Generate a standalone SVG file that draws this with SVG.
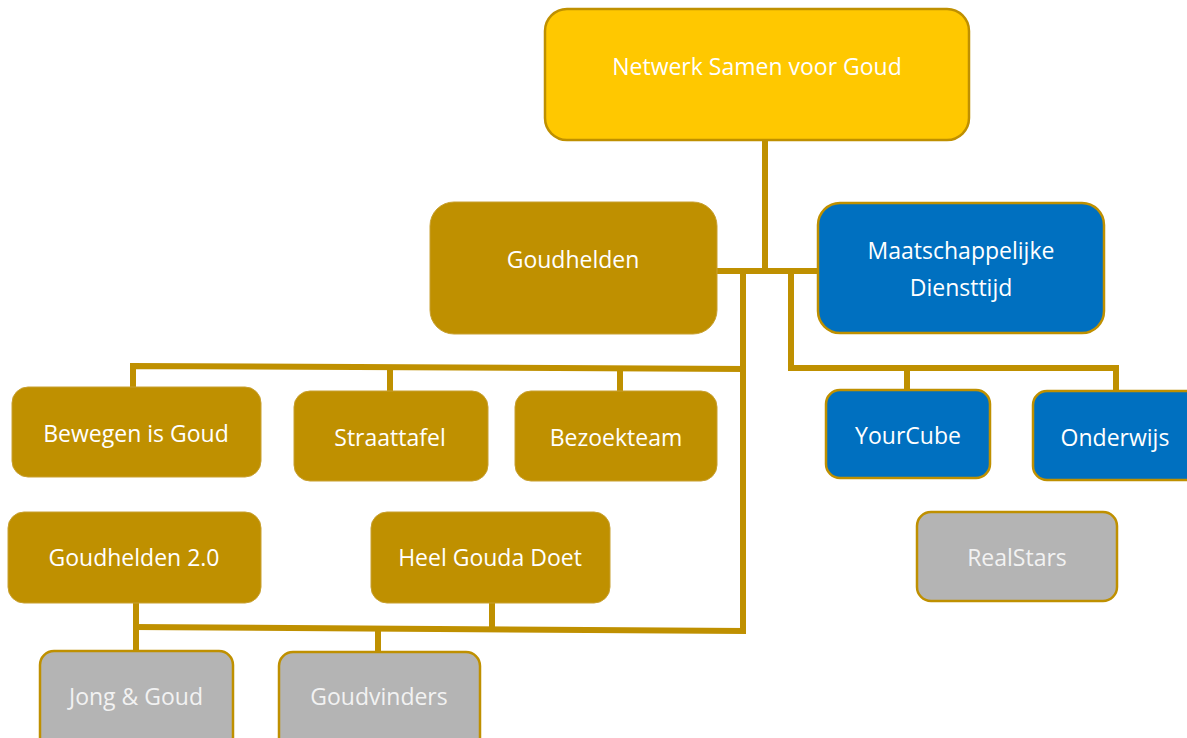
<svg xmlns="http://www.w3.org/2000/svg" width="1187" height="738" viewBox="0 0 1187 738">
<style>
.bg{fill:#FFFFFF}
.conn{stroke:#BF9000;stroke-width:6;fill:none;stroke-linecap:butt;stroke-linejoin:miter}
.top{fill:#FFC800;stroke:#BF9000;stroke-width:2.5}
.gold{fill:#BF9000;stroke:#C8A030;stroke-width:1}
.blue{fill:#0070C0;stroke:#BF9000;stroke-width:2.5}
.grey{fill:#B4B4B4;stroke:#BF9000;stroke-width:2.5}
text{font-family:"Open Sans","Liberation Sans",sans-serif;font-size:23px;fill:#FFFFFF;text-anchor:middle}
.lt{fill:#F2F2F2}
</style>
<rect class="bg" x="0" y="0" width="1187" height="738"/>
<g id="connectors">
<path class="conn" d="M765 140 V268"/>
<path class="conn" d="M717 271 H818"/>
<path class="conn" d="M743 272 V631"/>
<path class="conn" d="M791 272 V368 H1116 V392"/>
<path class="conn" d="M907 368 V390"/>
<path class="conn" d="M133 387 V366 L746 369"/>
<path class="conn" d="M390 367 V391"/>
<path class="conn" d="M620 368 V391"/>
<path class="conn" d="M136 603 V652"/>
<path class="conn" d="M133 627 L746 631"/>
<path class="conn" d="M492 603 V628"/>
<path class="conn" d="M378 629 V652"/>
</g>
<g id="n-netwerk"><rect class="top" x="545" y="9" width="424" height="131" rx="22"/><text x="757" y="75">Netwerk Samen voor Goud</text></g>
<g id="n-goudhelden"><rect class="gold" x="430" y="202" width="287" height="132" rx="24"/><text x="573" y="268">Goudhelden</text></g>
<g id="n-mdt"><rect class="blue" x="818" y="203" width="286" height="130" rx="22"/><text x="961" y="259">Maatschappelijke</text><text x="961" y="296">Diensttijd</text></g>
<g id="n-bewegen"><rect class="gold" x="12" y="387" width="249" height="90" rx="16"/><text x="136" y="442">Bewegen is Goud</text></g>
<g id="n-straattafel"><rect class="gold" x="294" y="391" width="194" height="90" rx="16"/><text x="390" y="446">Straattafel</text></g>
<g id="n-bezoekteam"><rect class="gold" x="515" y="391" width="202" height="90" rx="16"/><text x="616" y="446">Bezoekteam</text></g>
<g id="n-yourcube"><rect class="blue" x="826" y="390" width="164" height="88" rx="14"/><text x="908" y="444">YourCube</text></g>
<g id="n-onderwijs"><rect class="blue" x="1033" y="391" width="170" height="89" rx="14"/><text x="1115" y="446">Onderwijs</text></g>
<g id="n-realstars"><rect class="grey" x="917" y="512" width="200" height="89" rx="14"/><text class="lt" x="1017" y="566">RealStars</text></g>
<g id="n-goudhelden2"><rect class="gold" x="8" y="512" width="253" height="91" rx="16"/><text x="134" y="566">Goudhelden 2.0</text></g>
<g id="n-heelgouda"><rect class="gold" x="371" y="512" width="239" height="91" rx="16"/><text x="490" y="566">Heel Gouda Doet</text></g>
<g id="n-jonggoud"><rect class="grey" x="40" y="651" width="193" height="100" rx="14"/><text class="lt" x="136" y="705">Jong &amp; Goud</text></g>
<g id="n-goudvinders"><rect class="grey" x="279" y="652" width="201" height="100" rx="14"/><text class="lt" x="379" y="705">Goudvinders</text></g>
</svg>
